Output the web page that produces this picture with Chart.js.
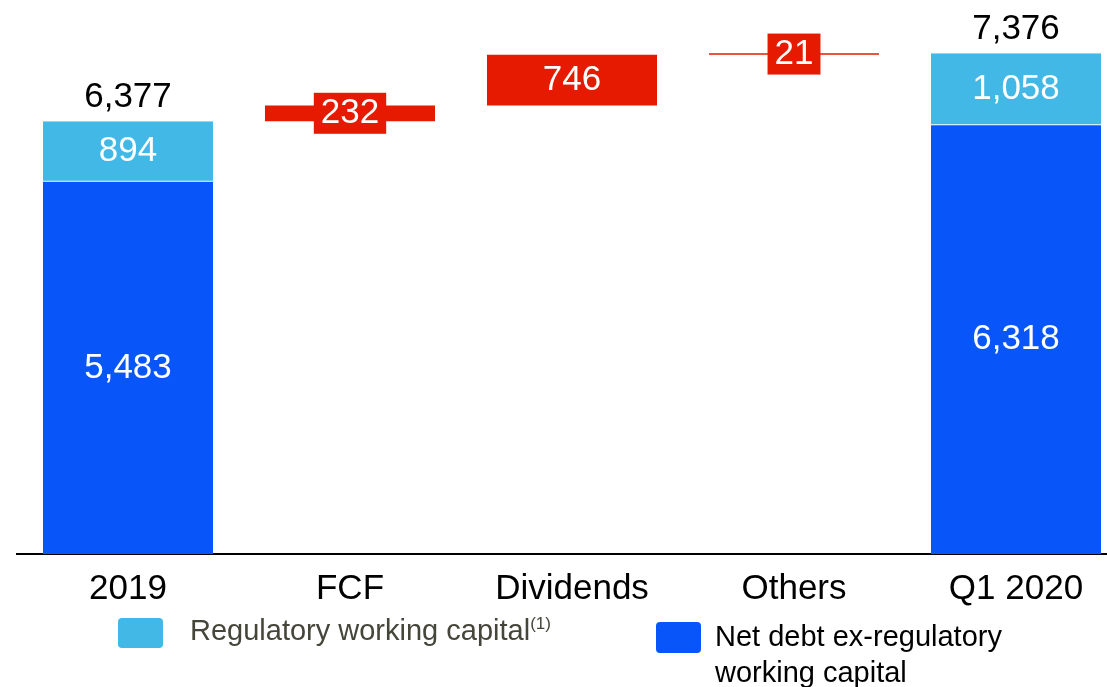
<!DOCTYPE html>
<html>
<head>
<meta charset="utf-8">
<title>Net debt evolution</title>
<script src="https://cdn.jsdelivr.net/npm/chart.js@4/dist/chart.umd.min.js"></script>
<style>
  html, body { margin:0; padding:0; background:#fff; overflow:hidden; }
  body { width:1107px; height:687px; position:relative; font-family:"Liberation Sans", Arial, sans-serif; }
  #wrap { position:absolute; left:0; top:0; width:1130px; height:624px; }
  .lg-box { position:absolute; width:45px; height:30px; border-radius:4px; }
  .lg-text { position:absolute; font-size:29px; white-space:nowrap; }
  .lg-text sup { font-size:17px; vertical-align:11px; line-height:0; }
</style>
</head>
<body>
<div id="wrap"><canvas id="bridgeChart"></canvas></div>

<div class="lg-box" style="left:118px;top:618px;background:#41b8e5"></div>
<div class="lg-text" style="left:190px;top:616px;line-height:29px;color:#45453a">Regulatory working capital<sup>(1)</sup></div>
<div class="lg-box" style="left:656px;top:622px;height:31px;background:#0856fa"></div>
<div class="lg-text" style="left:715px;top:618px;line-height:36px;color:#000">Net debt ex-regulatory<br>working capital</div>

<script>
/* ── DATA ───────────────────────────────────────────────── */
const categories = ['2019', 'FCF', 'Dividends', 'Others', 'Q1 2020'];
const netDebtEx  = [5483, null, null, null, 6318];   // net debt ex-regulatory WC
const regWC      = [894,  null, null, null, 1058];   // regulatory working capital
const flows      = [null, 232,  746,  21,   null];   // bridge movements

const BLUE  = '#0856fa';
const LIGHT = '#41b8e5';
const RED   = '#e61a00';
const FONT  = '"Liberation Sans", Arial, sans-serif';

const fmt = v => v.toLocaleString('en-US');

/* totals on the two end columns */
const totals = categories.map((c, i) => netDebtEx[i] == null ? null : netDebtEx[i] + regWC[i]);

/* floating ranges for the bridge steps, running from the 2019 total */
let running = totals[0];
const flowRanges = flows.map(v => {
  if (v == null) return null;
  const r = [running, running + v];
  running += v;
  return r;
});

/* ── LABELS ─────────────────────────────────────────────── */
const barLabels = {
  id: 'barLabels',
  afterDatasetsDraw(chart){
    const ctx = chart.ctx;
    ctx.save();
    ctx.font = '35px ' + FONT;
    ctx.textAlign = 'center';

    // values inside the stacked segments
    [0, 1].forEach(di => {
      const data = chart.data.datasets[di].data;
      chart.getDatasetMeta(di).data.forEach((bar, i) => {
        if (data[i] == null) return;
        ctx.fillStyle = '#fff';
        ctx.textBaseline = 'middle';
        ctx.fillText(fmt(data[i]), bar.x, (bar.y + bar.base) / 2);
      });
    });

    // totals above the end columns
    chart.getDatasetMeta(1).data.forEach((bar, i) => {
      if (totals[i] == null) return;
      ctx.fillStyle = '#000';
      ctx.textBaseline = 'alphabetic';
      ctx.fillText(fmt(totals[i]), bar.x, bar.y - 14);
    });

    // bridge steps: white text on a red tag
    chart.getDatasetMeta(2).data.forEach((bar, i) => {
      if (flows[i] == null) return;
      const txt = fmt(flows[i]);
      const cy = (bar.y + bar.base) / 2;
      const w = ctx.measureText(txt).width + 14;
      ctx.fillStyle = RED;
      ctx.fillRect(bar.x - w / 2, cy - 20.5, w, 41);
      ctx.fillStyle = '#fff';
      ctx.textBaseline = 'middle';
      ctx.fillText(txt, bar.x, cy);
    });
    ctx.restore();
  }
};

/* ── CHART ──────────────────────────────────────────────── */
new Chart(document.getElementById('bridgeChart'), {
  type: 'bar',
  data: {
    labels: categories,
    datasets: [
      { label: 'Net debt ex-regulatory working capital', data: netDebtEx, backgroundColor: BLUE,
        borderWidth: 0 },
      { label: 'Regulatory working capital', data: regWC, backgroundColor: LIGHT,
        borderColor: '#ffffff', borderWidth: { top: 0, left: 0, right: 0, bottom: 1 }, borderSkipped: false },
      { label: 'Bridge', data: flowRanges, backgroundColor: RED, borderWidth: 0 },
    ]
  },
  options: {
    responsive: true, maintainAspectRatio: false, animation: false,
    layout: { padding: { left: 17, right: 3, top: 11, bottom: 0 } },
    categoryPercentage: 1, barPercentage: 0.766,
    plugins: { legend: { display: false }, tooltip: { enabled: false } },
    scales: {
      x: {
        stacked: true,
        grid: { display: false, drawTicks: false },
        border: { display: true, color: '#000', width: 2 },
        ticks: { color: '#000', padding: 14, font: { family: FONT, size: 35 } }
      },
      y: { stacked: true, display: false, min: 0, max: 8000 }
    }
  },
  plugins: [barLabels]
});
</script>
</body>
</html>
